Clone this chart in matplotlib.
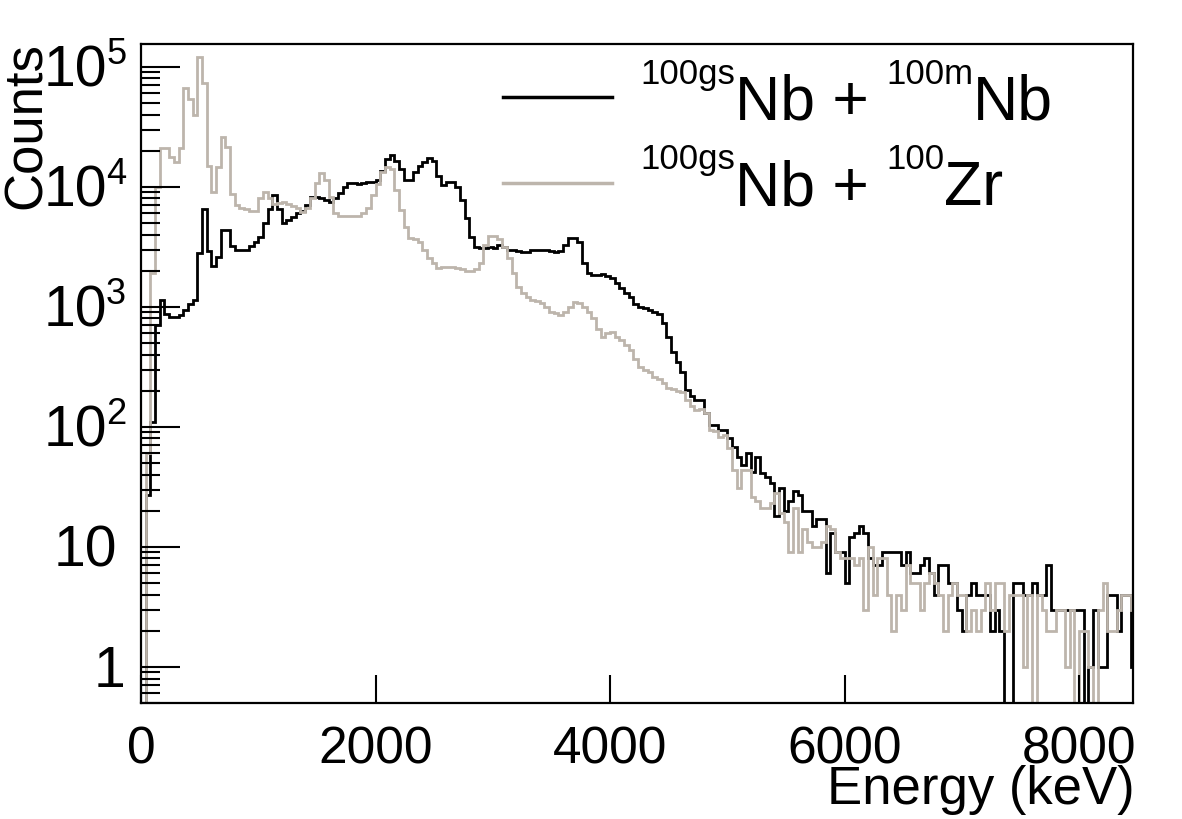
import numpy as np
import matplotlib
matplotlib.use("Agg")
import matplotlib.pyplot as plt
from matplotlib.ticker import LogLocator, NullFormatter
from matplotlib.transforms import IdentityTransform

plt.rcParams['font.family'] = 'Liberation Sans'

# 40 keV bins from 0 to 8480 keV
bin_width = 40
edges = np.arange(0, 8480 + bin_width, bin_width)

# 100gsNb + 100mNb (black)
counts_nb = [
    0.3, 27, 110, 700, 1150, 880, 830, 820, 850, 950,
    1050, 1150, 2800, 6600, 2900, 2200, 2600, 4400, 4400, 3200,
    3000, 2950, 2950, 3200, 3500, 3800, 5000, 6600, 8500, 6500,
    5000, 5300, 5600, 6000, 6300, 7000, 8200, 8200, 8000, 7700,
    7500, 8000, 8900, 10000, 10800, 10800, 10600, 10800, 11000, 11000,
    11300, 13500, 17000, 18500, 16500, 14000, 11500, 11500, 13400, 15000,
    16000, 17500, 16500, 12300, 10400, 11000, 11000, 10000, 7800, 5500,
    3800, 3150, 3100, 3100, 3150, 3100, 3300, 3150, 2950, 2950,
    2900, 2850, 2850, 2950, 3000, 2950, 2950, 2900, 2850, 2900,
    3300, 3750, 3750, 3500, 2300, 1900, 1850, 1850, 1870, 1800,
    1730, 1580, 1440, 1310, 1200, 1050, 1000, 980, 940, 900,
    870, 740, 560, 420, 350, 285, 203, 180, 167, 167,
    131, 103, 103, 94, 94, 81, 68, 56, 48, 61,
    42, 56, 41, 38, 34, 18, 31, 20, 24, 29,
    27, 20, 20, 15, 17, 17, 6, 13, 9, 9,
    5, 12, 13, 15, 13, 8, 7, 7, 9, 9,
    9, 9, 7, 9, 6, 6, 7, 8, 6, 4,
    7, 7, 5, 5, 3, 2, 4, 5, 4, 4,
    4, 2, 3, 2, 0, 0, 5, 5, 4, 4,
    5, 4, 4, 7, 3, 3, 3, 3, 3, 3,
    3, 0, 1, 3, 1, 1, 4, 4, 2, 4,
    4, 1,
]

# 100gsNb + 100Zr (grey)
counts_zr = [
    0.3, 60, 1900, 10000, 21000, 21000, 17600, 16000, 21000, 66000,
    54000, 40000, 120000, 73000, 15000, 9000, 14600, 26000, 21500, 8800,
    7000, 6700, 6500, 6300, 6300, 8000, 9000, 8000, 7200, 7400,
    7500, 7200, 6900, 6700, 6200, 6700, 8000, 10800, 13000, 11400,
    8200, 6100, 5700, 5700, 5700, 5700, 5700, 6100, 6700, 8600,
    10500, 13400, 14700, 14000, 9500, 6400, 4600, 3750, 3700, 3500,
    2950, 2560, 2300, 2100, 2150, 2150, 2150, 2100, 2050, 2000,
    2000, 2050, 2300, 3300, 3900, 3900, 3700, 3150, 2560, 1900,
    1450, 1300, 1200, 1150, 1120, 1080, 990, 900, 890, 860,
    900, 1000, 1100, 1080, 1000, 900, 810, 650, 560, 600,
    620, 560, 530, 480, 440, 370, 315, 300, 285, 260,
    250, 233, 210, 205, 200, 195, 167, 150, 138, 140,
    131, 94, 92, 83, 85, 67, 44, 31, 44, 44,
    26, 24, 21, 21, 23, 28, 19, 16, 9, 21,
    9, 14, 11, 10, 10, 11, 15, 14, 9, 8,
    8, 8, 7, 8, 3, 10, 4, 8, 8, 4,
    2, 4, 3, 7, 5, 5, 3, 5, 6, 5,
    4, 2, 4, 5, 4, 4, 2, 3, 2, 3,
    5, 3, 5, 5, 2, 4, 4, 4, 1, 4,
    0, 4, 3, 2, 2, 3, 3, 1, 3, 0,
    2, 2, 1, 0, 3, 5, 2, 2, 3, 4,
    4, 3,
]

y_ticks = [1, 10, 100, 1000, 10000, 100000]
y_exponents = [None, None, '2', '3', '4', '5']
x_ticks = [0, 2000, 4000, 6000, 8000]

black = '#000000'
grey = '#bdb5ac'

fig = plt.figure(figsize=(11.82, 8.19), dpi=100)
ax = fig.add_axes([141 / 1182, 1 - 703 / 819, (1133 - 141) / 1182, (703 - 44) / 819])

# zero bins go to the bottom of the pad
a = np.clip(np.array(counts_nb, dtype=float), 0.05, None)
b = np.clip(np.array(counts_zr, dtype=float), 0.05, None)
ax.stairs(a, edges, color=black, lw=2.0)
ax.stairs(b, edges, color=grey, lw=2.0)

ax.set_yscale('log')
ax.set_xlim(0, 8460)
ax.set_ylim(0.5, 1.55e5)

ax.set_xticks(x_ticks)
ax.set_xticklabels([str(t) for t in x_ticks])
ax.set_yticks(y_ticks)
ax.set_yticklabels([])
ax.yaxis.set_minor_locator(LogLocator(base=10, subs=np.arange(2, 10)))
ax.yaxis.set_minor_formatter(NullFormatter())

ax.tick_params(axis='x', direction='in', length=20, width=1.5, labelsize=37, pad=16)
ax.tick_params(axis='y', which='major', direction='in', length=28, width=1.5)
ax.tick_params(axis='y', which='minor', direction='in', length=14, width=1.5)
for s in ax.spines.values():
    s.set_linewidth(1.6)

# axis titles, ROOT style (aligned to the end of the axis)
fig.text(1135, 819 - 804, 'Energy (keV)', fontsize=38, ha='right', va='baseline',
         transform=IdentityTransform())
fig.text(2 / 1182, 1 - 42 / 819, 'Counts', fontsize=38, rotation=90, ha='left', va='top')

# legend drawn by hand so the superscripts keep ROOT proportions
ax.plot([503, 612], [819 - 97, 819 - 97], color=black, lw=2.5, transform=IdentityTransform(), clip_on=False)
ax.plot([503, 612], [819 - 183, 819 - 183], color=grey, lw=2.5, transform=IdentityTransform(), clip_on=False)

fig.canvas.draw()
r = fig.canvas.get_renderer()

# y tick labels: 1, 10, 10^n
for v, e in zip(y_ticks, y_exponents):
    yd = ax.transData.transform((0, v))[1]
    if e is None:
        right = 117 if v == 10 else 125
        fig.text(right, yd - 20, str(v), fontsize=41, ha='right', va='baseline',
                 transform=IdentityTransform())
    else:
        fig.text(107, yd - 20, '10', fontsize=41, ha='right', va='baseline',
                 transform=IdentityTransform())
        fig.text(106, yd + 3, e, fontsize=26, ha='left', va='baseline',
                 transform=IdentityTransform())


def put_row(x, base, parts):
    for txt, sup in parts:
        size = 25 if sup else 45
        yy = base + 36 if sup else base
        t = fig.text(x, yy, txt, fontsize=size, transform=IdentityTransform(), ha='left', va='baseline')
        x = t.get_window_extent(r).x1


put_row(640, 819 - 120, [('100gs', True), ('Nb + ', False), ('100m', True), ('Nb', False)])
put_row(640, 819 - 205, [('100gs', True), ('Nb + ', False), ('100', True), ('Zr', False)])

fig.savefig('out.png', dpi=100)
